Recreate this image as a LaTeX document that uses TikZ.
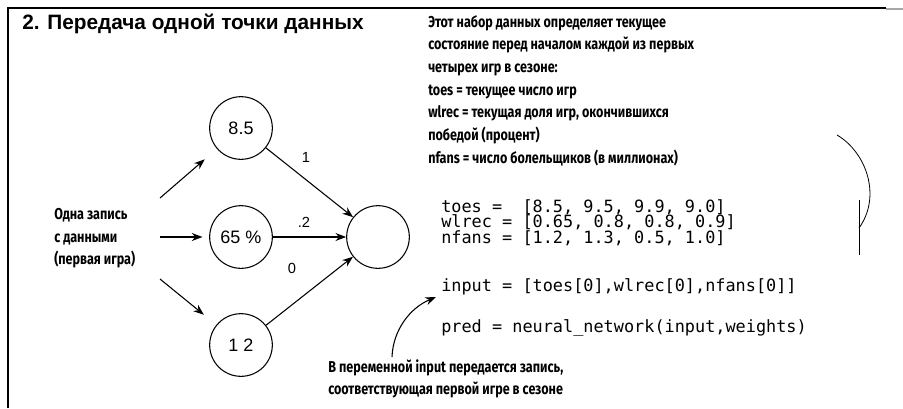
\documentclass[tikz,border=0pt]{standalone}
\usepackage{fontspec}
\setmainfont{Liberation Sans}
\newfontfamily\condfont{Fira Sans}[FakeStretch=0.8]
\newfontfamily\codefont{DejaVu Sans Mono}
\usetikzlibrary{arrows.meta}
\begin{document}
\begin{tikzpicture}[x=0.75pt,y=-0.75pt,
  neuron/.style={circle, draw, line width=0.8pt, minimum size=47pt, inner sep=0pt, font=\fontsize{13.5}{15}\selectfont},
  arr/.style={-{Stealth[length=8pt,width=6pt]}, line width=0.8pt},
  note/.style={font=\condfont\bfseries\fontsize{11.8}{17}\selectfont, align=left, inner sep=0pt, anchor=north west},
  code/.style={font=\codefont\fontsize{12.65}{14}\selectfont, anchor=base west, inner sep=0pt},
  wlabel/.style={font=\fontsize{11}{12}\selectfont, inner sep=0pt},
  frame/.style={line width=1.5pt},
  thinline/.style={line width=0.6pt}
]
\useasboundingbox (0,0) rectangle (903,408);
\fill[white] (0,0) rectangle (903,408);
\draw[frame] (8,408) -- (8,8) -- (886,8);
\draw[gray!70, line width=1pt] (886,9) -- (903,9);

\node[font=\bfseries\fontsize{15.6}{17}\selectfont, anchor=base west, inner sep=0pt] (title) at (22,29) {2. Передача одной точки данных};

\node[neuron] (a) at (241,128) {8.5};
\node[neuron] (b) at (241,237) {65 \%};
\node[neuron] (c) at (241,345) {1 2};
\node[neuron] (o) at (378,237) {};

\node[note] (in) at (54,208) {Одна запись\\с данными\\(первая игра)};
\coordinate (t1) at (160,198);
\coordinate (t2) at (160,237);
\coordinate (t3) at (160,279);
\draw[arr, shorten >=12pt] (t1) -- (a);
\draw[arr, shorten >=5pt] (t2) -- (b);
\draw[arr, shorten >=12pt] (t3) -- (c);

\draw[arr] (a) -- (o);
\draw[arr] (b) -- (o);
\draw[arr] (c) -- (o);
\node[wlabel] (l1) at (306,157) {1};
\node[wlabel] (l2) at (304,222) {.2};
\node[wlabel] (l3) at (292,268) {0};

\node[note] (desc) at (428,15) {Этот набор данных определяет текущее\\
состояние перед началом каждой из первых\\
четырех игр в сезоне:\\
toes = текущее число игр\\
wlrec = текущая доля игр, окончившихся\\
победой (процент)\\
nfans = число болельщиков (в миллионах)};

\node[code] (c1) at (441,212) {toes =\ \ [8.5, 9.5, 9.9, 9.0]};
\node[code] (c2) at (441,227.5) {wlrec = [0.65, 0.8, 0.8, 0.9]};
\node[code] (c3) at (441,243) {nfans = [1.2, 1.3, 0.5, 1.0]};
\node[code] (c4) at (441,291) {input = [toes[0],wlrec[0],nfans[0]]};
\node[code] (c5) at (441,332) {pred = neural\_network(input,weights)};

\node[note] (bt) at (328,359) {В переменной input передается запись,\\соответствующая первой игре в сезоне};
\coordinate (cs) at (392,357);
\coordinate (ce) at (436,297);
\draw[arr] (cs) .. controls (393,330) and (410,308) .. (ce);

\coordinate (bs) at (837,135);
\coordinate (be) at (859,228);
\coordinate (vt) at (859,200);
\coordinate (vb) at (859,255);
\draw[thinline] (bs) .. controls (866,152) and (882,196) .. (be);
\draw[thinline] (vt) -- (vb);
\end{tikzpicture}
\end{document}
